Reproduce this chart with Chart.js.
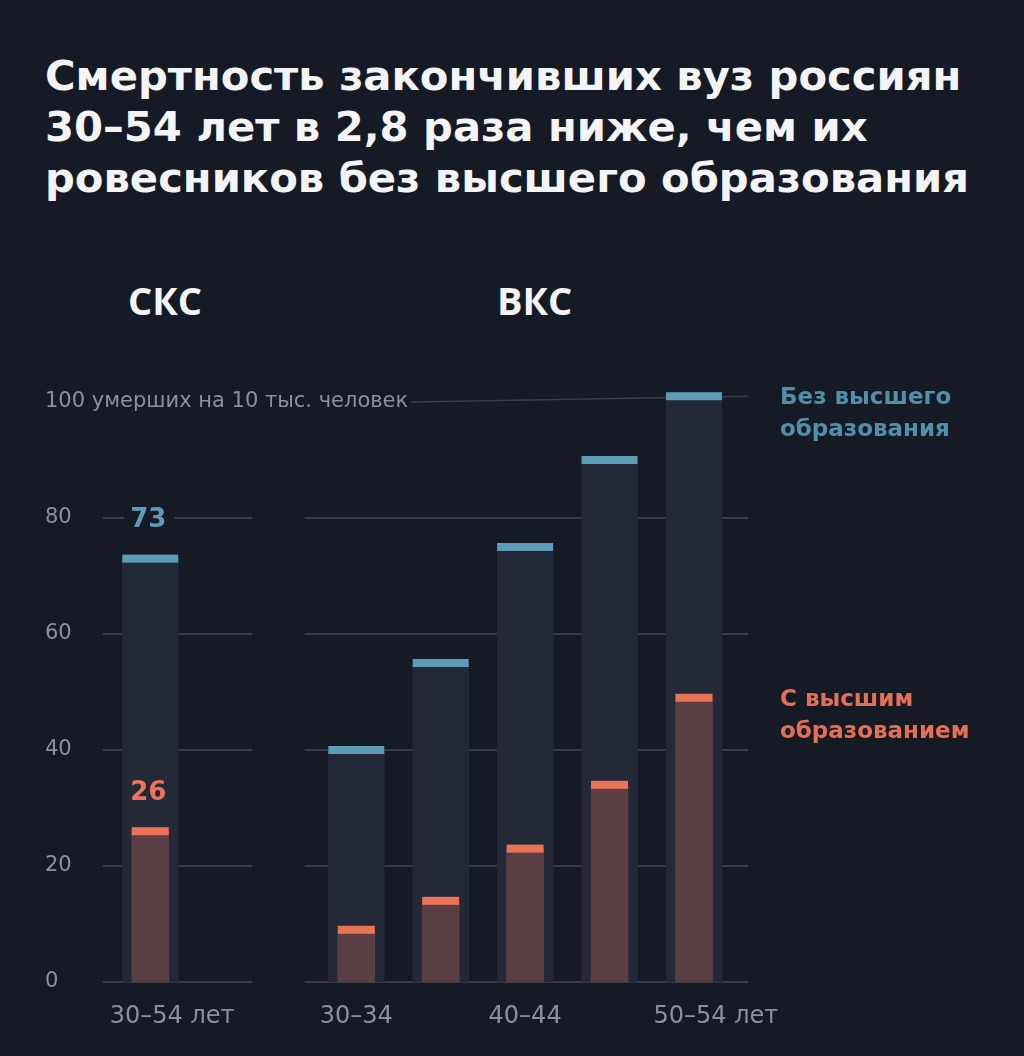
<!DOCTYPE html>
<html lang="ru">
<head>
<meta charset="utf-8">
<title>Смертность россиян 30–54 лет по образованию</title>
<script src="https://cdn.jsdelivr.net/npm/chart.js@4.4.1/dist/chart.umd.min.js"></script>
<style>
  html, body { margin: 0; padding: 0; background: #161a25; }
  .page { position: relative; width: 1024px; height: 1056px; background: #161a25; overflow: hidden; }
  h1 { position: absolute; left: 45px; top: 50px; margin: 0; font: 700 41.7px/51px 'DejaVu Sans', sans-serif; color: #f4f4f6; }
  .panel { position: absolute; top: 274px; margin: 0; font: 700 38px 'Open Sans', sans-serif; color: #f4f4f6; }
  canvas { position: absolute; left: 0; top: 0; }
</style>
</head>
<body>
<div class="page">
  <h1>Смертность закончивших вуз россиян<br>30–54 лет в 2,8 раза ниже, чем их<br>ровесников без высшего образования</h1>
  <div class="panel" style="left:128px">СКС</div>
  <div class="panel" style="left:497px">ВКС</div>
  <canvas id="chart" width="1024" height="1056"></canvas>
</div>
<script>
// data: deaths per 10 000 people
const panels = ['СКС', 'ВКС'];
const ageGroups = ['30–54', '30–34', '35–39', '40–44', '45–49', '50–54'];
const panelOf = ['СКС', 'ВКС', 'ВКС', 'ВКС', 'ВКС', 'ВКС'];
const withoutDegree = [73, 40, 55, 75, 90, 101];
const withDegree = [26, 9, 14, 23, 34, 49];
const xTickLabels = ['30–54 лет', '30–34', '', '40–44', '', '50–54 лет'];
const yTicks = [0, 20, 40, 60, 80, 100];
const yTickLabels = ['0', '20', '40', '60', '80', '100 умерших на 10 тыс. человек'];
const seriesNames = ['Без высшего образования', 'С высшим образованием'];

// layout (in bar steps along the x axis)
const PANEL_START = { 'СКС': 0, 'ВКС': 2.44 };
const PANEL_RANGE = { 'СКС': [-0.56, 1.21], 'ВКС': [1.83, 7.08] };
const X_MIN = -0.56, X_MAX = 7.08;

const BG = '#161a25';
const GRID = '#393e4a';
const TICK = '#8c909a';
const BLUE = '#5c9cb9';
const ORANGE = '#ec7358';
const FONT = "'DejaVu Sans', sans-serif";
const TICK_FONT = '21px ' + FONT;

// x position of each bar inside its panel
const xPos = ageGroups.map((_, i) => {
  const p = panelOf[i];
  return PANEL_START[p] + (i - panelOf.indexOf(p));
});

const gridPlugin = {
  id: 'panelGrid',
  beforeDatasetsDraw(chart) {
    const { ctx, scales: { x, y } } = chart;
    ctx.save();
    ctx.strokeStyle = GRID;
    ctx.lineWidth = 2;
    yTicks.forEach((v, i) => {
      const py = y.getPixelForValue(v);
      if (i === yTicks.length - 1) {
        // top line: long label, then a thin rule running to the last marker
        ctx.font = TICK_FONT;
        ctx.fillStyle = TICK;
        ctx.textAlign = 'left';
        ctx.textBaseline = 'middle';
        ctx.fillText(yTickLabels[i], y.left, py);
        const start = y.left + ctx.measureText(yTickLabels[i]).width + 3;
        const last = withoutDegree[withoutDegree.length - 1];
        ctx.lineWidth = 1.5;
        ctx.beginPath();
        ctx.moveTo(start, py);
        ctx.lineTo(x.right, y.getPixelForValue(last));
        ctx.stroke();
        return;
      }
      panels.forEach(p => {
        const [a, b] = PANEL_RANGE[p];
        ctx.beginPath();
        ctx.moveTo(x.getPixelForValue(a), py);
        ctx.lineTo(x.getPixelForValue(b), py);
        ctx.stroke();
      });
    });
    ctx.restore();
  }
};

const markPlugin = {
  id: 'marks',
  afterDatasetsDraw(chart) {
    const { ctx, chartArea, scales: { y } } = chart;
    ctx.save();
    // value caps on top of each bar
    chart.data.datasets.forEach((ds, di) => {
      chart.getDatasetMeta(di).data.forEach(bar => {
        const { x: bx, y: by, width } = bar.getProps(['x', 'y', 'width'], true);
        ctx.fillStyle = ds.markerColor;
        ctx.fillRect(bx - width / 2, by - 4, width, 8);
      });
    });

    // numbers above the СКС bar
    ctx.font = '700 26px ' + FONT;
    ctx.textAlign = 'center';
    ctx.textBaseline = 'middle';
    chart.data.datasets.forEach((ds, di) => {
      const bar = chart.getDatasetMeta(di).data[0];
      const { x: bx, y: by } = bar.getProps(['x', 'y'], true);
      const txt = String(ds.data[0].y);
      const w = ctx.measureText(txt).width;
      if (di === 0) {
        ctx.fillStyle = BG;
        ctx.fillRect(bx - w / 2 - 8, by - 38 - 12, w + 14, 24);
      }
      ctx.fillStyle = ds.markerColor;
      ctx.fillText(txt, bx - 2, by - 38);
    });

    // age labels under the bars
    ctx.font = '24px ' + FONT;
    ctx.fillStyle = TICK;
    const meta = chart.getDatasetMeta(0);
    xTickLabels.forEach((lab, i) => {
      if (!lab) return;
      const bx = meta.data[i].x;
      const sp = lab.indexOf(' ');
      const head = sp < 0 ? lab : lab.slice(0, sp);
      const hw = ctx.measureText(head).width;
      ctx.textAlign = 'left';
      ctx.fillText(lab, bx - hw / 2 - (sp < 0 ? 0 : 4), chartArea.bottom + 35);
    });

    // series labels on the right
    ctx.font = '700 23px ' + FONT;
    ctx.textAlign = 'left';
    chart.data.datasets.forEach(ds => {
      const last = ds.data[ds.data.length - 1].y;
      const py = y.getPixelForValue(last) + 2;
      const cut = ds.label.lastIndexOf(' ');
      ctx.fillStyle = ds.labelColor;
      ctx.fillText(ds.label.slice(0, cut), chartArea.right + 32, py);
      ctx.fillText(ds.label.slice(cut + 1), chartArea.right + 32, py + 32);
    });
    ctx.restore();
  }
};

new Chart(document.getElementById('chart'), {
  type: 'bar',
  data: {
    datasets: [
      {
        label: seriesNames[0],
        data: xPos.map((x, i) => ({ x, y: withoutDegree[i] })),
        backgroundColor: '#232937',
        markerColor: BLUE,
        labelColor: '#4f90ad',
        barThickness: 56,
        grouped: false,
        clip: false,
        order: 2
      },
      {
        label: seriesNames[1],
        data: xPos.map((x, i) => ({ x, y: withDegree[i] })),
        backgroundColor: '#5a3e43',
        markerColor: ORANGE,
        labelColor: '#e46f55',
        barThickness: 37,
        grouped: false,
        clip: false,
        order: 1
      }
    ]
  },
  options: {
    responsive: false,
    animation: false,
    layout: { padding: { left: 45, right: 276, top: 402, bottom: 74 } },
    plugins: { legend: { display: false }, tooltip: { enabled: false } },
    scales: {
      x: { type: 'linear', min: X_MIN, max: X_MAX, offset: false, display: false },
      y: {
        min: 0,
        max: 100,
        afterBuildTicks: s => { s.ticks = yTicks.map(v => ({ value: v })); },
        afterFit: s => { s.width = 58; },
        grid: { display: false },
        border: { display: false },
        ticks: {
          crossAlign: 'far',
          padding: 0,
          color: TICK,
          font: { family: FONT, size: 21 },
          // the long top label is drawn by the grid plugin so it is not clipped
          callback: (v, i) => (i === yTicks.length - 1 ? '' : yTickLabels[i])
        }
      }
    }
  },
  plugins: [gridPlugin, markPlugin]
});
</script>
</body>
</html>
